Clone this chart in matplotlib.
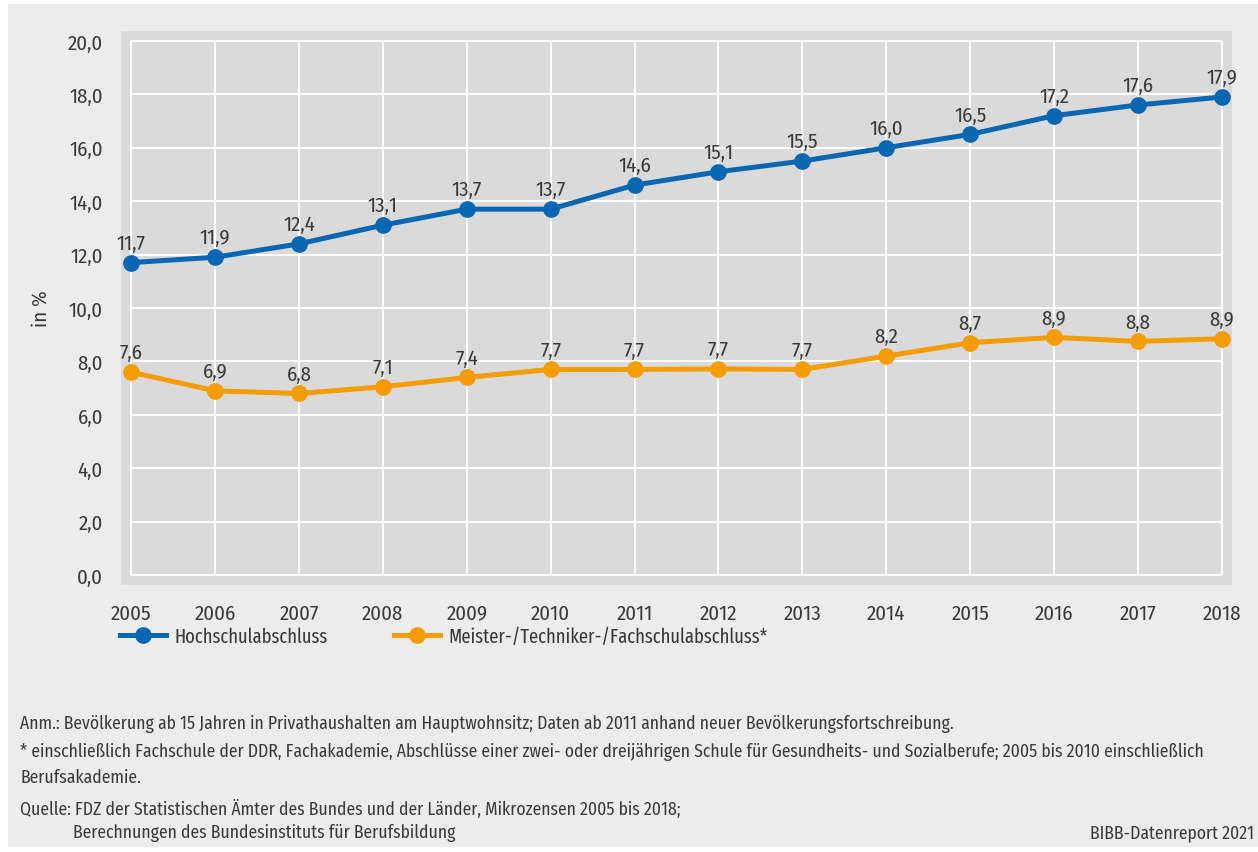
import matplotlib
matplotlib.use("Agg")
import matplotlib.pyplot as plt
from matplotlib.patches import Rectangle
from matplotlib.lines import Line2D

plt.rcParams["font.family"] = ["Fira Sans Condensed", "DejaVu Sans"]

years = [2005, 2006, 2007, 2008, 2009, 2010, 2011, 2012, 2013, 2014, 2015, 2016, 2017, 2018]
hochschule = [11.7, 11.9, 12.4, 13.1, 13.7, 13.7, 14.6, 15.1, 15.5, 16.0, 16.5, 17.2, 17.6, 17.9]
meister = [7.6, 6.9, 6.8, 7.05, 7.4, 7.7, 7.7, 7.72, 7.7, 8.2, 8.7, 8.9, 8.75, 8.85]
meister_labels = [7.6, 6.9, 6.8, 7.1, 7.4, 7.7, 7.7, 7.7, 7.7, 8.2, 8.7, 8.9, 8.8, 8.9]
y_ticks = [0, 2, 4, 6, 8, 10, 12, 14, 16, 18, 20]
series_names = ["Hochschulabschluss", "Meister-/Techniker-/Fachschulabschluss*"]

BLUE = "#0866b2"
ORANGE = "#f59c00"
TEXT = "#3a3a3a"

W, H = 1258, 853
fig = plt.figure(figsize=(W / 100, H / 100), dpi=100, facecolor="white")
fig.patches.append(Rectangle((8 / W, 5 / H), 1, (848 - 5) / H, transform=fig.transFigure,
                             facecolor="#ececec", edgecolor="none", zorder=-5))

# plot area (gray box) in pixel coords: x 121..1232, y 32..586
ax = fig.add_axes([121 / W, 1 - 586 / H, (1232 - 121) / W, (586 - 32) / H])
ax.set_facecolor("#dadada")
for s in ax.spines.values():
    s.set_visible(False)

ax.set_xlim(2004.88, 2018.12)
ax.set_ylim(-0.37, 20.37)

# white grid only inside data range
ax.hlines(y_ticks, years[0], years[-1], color="white", lw=1.5, zorder=1)
ax.vlines(years, y_ticks[0], y_ticks[-1], color="white", lw=1.5, zorder=1)

ax.plot(years, hochschule, color=BLUE, lw=3.6, marker="o", ms=11, zorder=3)
ax.plot(years, meister, color=ORANGE, lw=3.6, marker="o", ms=11, zorder=3)

for x, v in zip(years, hochschule):
    ax.annotate(f"{v:.1f}".replace(".", ","), (x, v), xytext=(0, 7), textcoords="offset points",
                ha="center", va="bottom", fontsize=15, color=TEXT)
for x, v, lab in zip(years, meister, meister_labels):
    ax.annotate(f"{lab:.1f}".replace(".", ","), (x, v), xytext=(0, 7), textcoords="offset points",
                ha="center", va="bottom", fontsize=15, color=TEXT)

ax.set_xticks(years)
ax.set_xticklabels([str(y) for y in years], fontsize=15, color=TEXT)
ax.set_yticks(y_ticks)
ax.set_yticklabels([f"{t:.1f}".replace(".", ",") for t in y_ticks], fontsize=15, color=TEXT)
ax.tick_params(length=0)
ax.tick_params(axis="x", pad=13)
ax.tick_params(axis="y", pad=13)
ax.set_ylabel("in %", fontsize=15, color=TEXT, labelpad=12)

handles = [Line2D([], [], color=BLUE, lw=3.6, marker="o", ms=11),
           Line2D([], [], color=ORANGE, lw=3.6, marker="o", ms=11)]
fig.legend(handles, series_names, loc="center left", bbox_to_anchor=(120 / W, 1 - 637 / H),
           ncol=2, frameon=False,
           prop={"family": ["Fira Sans Extra Condensed", "Fira Sans Condensed"], "size": 14.5},
           handlelength=2.3, columnspacing=3.3, handletextpad=0.4, borderpad=0,
           borderaxespad=0, labelcolor=TEXT)

fs = 12.7
fig.text(20 / W, 1 - 724 / H, "Anm.: Bevölkerung ab 15 Jahren in Privathaushalten am Hauptwohnsitz; "
         "Daten ab 2011 anhand neuer Bevölkerungsfortschreibung.", fontsize=fs, color=TEXT, va="center")
fig.text(20 / W, 1 - 752 / H, "* einschließlich Fachschule der DDR, Fachakademie, Abschlüsse einer zwei- "
         "oder dreijährigen Schule für Gesundheits- und Sozialberufe; 2005 bis 2010 einschließlich",
         fontsize=fs, color=TEXT, va="center")
fig.text(20 / W, 1 - 778 / H, "Berufsakademie.", fontsize=fs, color=TEXT, va="center")
fig.text(20 / W, 1 - 809 / H, "Quelle: FDZ der Statistischen Ämter des Bundes und der Länder, "
         "Mikrozensen 2005 bis 2018;", fontsize=fs, color=TEXT, va="center")
fig.text(73 / W, 1 - 833 / H, "Berechnungen des Bundesinstituts für Berufsbildung",
         fontsize=fs, color=TEXT, va="center")
fig.text(1254 / W, 1 - 833 / H, "BIBB-Datenreport 2021", fontsize=fs, color=TEXT,
         va="center", ha="right")

fig.savefig("out.png", dpi=100, facecolor=fig.get_facecolor())
